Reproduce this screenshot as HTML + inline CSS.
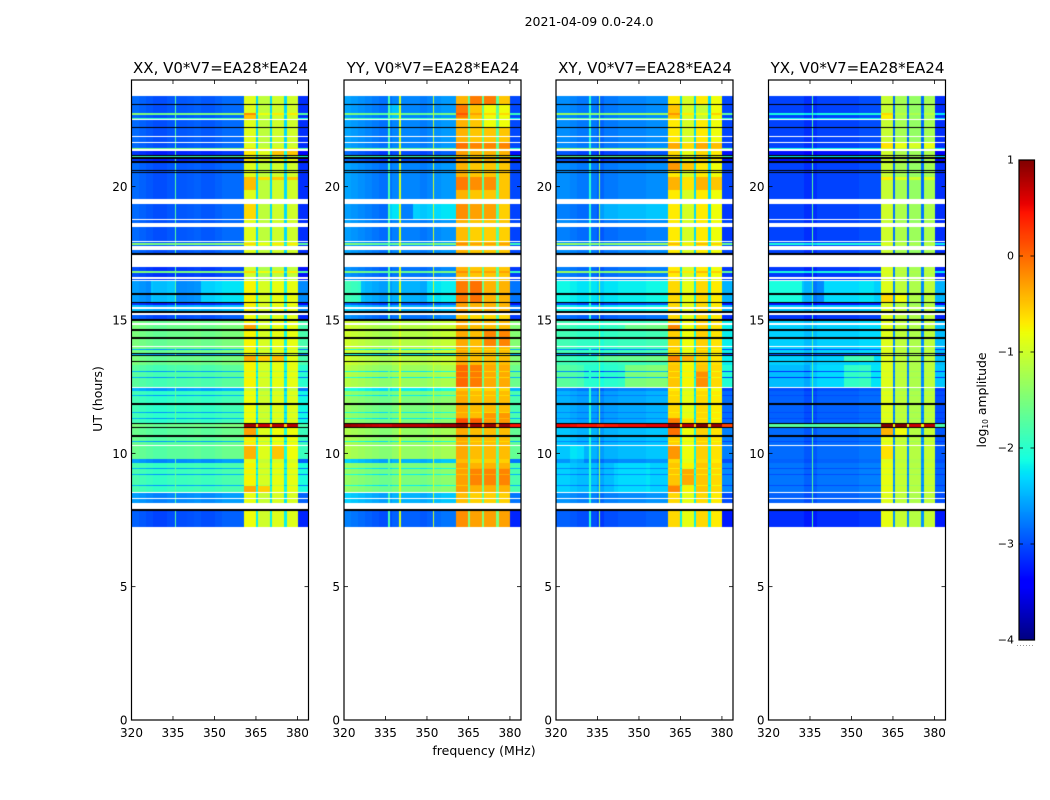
<!DOCTYPE html>
<html>
<head>
<meta charset="utf-8">
<title>Dynamic spectra</title>
<style>
  html, body { margin: 0; padding: 0; background: #fff; }
  #stage { position: relative; width: 1050px; height: 800px; overflow: hidden; background: #fff; }
  #stage canvas { position: absolute; display: block; }
  #overlay { position: absolute; left: 0; top: 0; }
  text { font-family: "DejaVu Sans", "Liberation Sans", sans-serif; fill: #000; }
</style>
</head>
<body>
<div id="stage">
  <canvas id="heat0" width="177" height="640" style="left:131.5px;top:80px"></canvas>
  <canvas id="heat1" width="177" height="640" style="left:344px;top:80px"></canvas>
  <canvas id="heat2" width="177" height="640" style="left:556px;top:80px"></canvas>
  <canvas id="heat3" width="177" height="640" style="left:768.5px;top:80px"></canvas>
  <canvas id="cbar" width="16" height="480" style="left:1019px;top:160px"></canvas>
  <svg id="overlay" width="1050" height="800" xmlns="http://www.w3.org/2000/svg">
    <text x="589" y="26" font-size="12.5" text-anchor="middle">2021-04-09 0.0-24.0</text>
    <text x="484" y="755" font-size="12.5" text-anchor="middle">frequency (MHz)</text>
    <text x="0" y="0" font-size="12.5" text-anchor="middle" transform="translate(102 399) rotate(-90)">UT (hours)</text>
    <text x="0" y="0" font-size="12.4" text-anchor="middle" transform="translate(986 400) rotate(-90)">log<tspan font-size="7.5" dy="2">10</tspan><tspan dy="-2"> amplitude</tspan></text>
    <line x1="1017" y1="645.5" x2="1035" y2="645.5" stroke="#999" stroke-width="1" stroke-dasharray="1 2"></line>
  </svg>
</div>
<script>
// ---- Chart data ----
const panelTitles = ["XX, V0*V7=EA28*EA24", "YY, V0*V7=EA28*EA24", "XY, V0*V7=EA28*EA24", "YX, V0*V7=EA28*EA24"];
const freqTicks = [320, 335, 350, 365, 380];
const hourTicks = [0, 5, 10, 15, 20];
const colorTicks = [1, 0, -1, -2, -3, -4];

// Time-row boundaries (UT hours, top to bottom) and each row's class. W = blank, K = black.
const rowEdges = [23.4,23.1,23.063,22.763,22.688,22.575,22.538,22.5,22.238,22.2,21.9,21.863,21.675,21.638,21.45,21.394,21.338,21.206,21.15,21.094,21.038,20.944,20.906,20.625,20.588,20.55,20.513,20.363,20.25,19.875,19.556,19.35,18.806,18.75,18.656,18.499,17.963,17.925,17.869,17.831,17.775,17.625,17.524,17.449,16.999,16.819,16.763,16.594,16.556,16.519,16.463,15.994,15.956,15.686,15.649,15.581,15.544,15.469,15.431,15.338,15.274,15.188,15.019,14.981,14.869,14.831,14.644,14.606,14.344,14.306,14.036,13.999,13.913,13.875,13.774,13.736,13.676,13.639,13.463,13.425,13.331,13.294,13.088,13.05,12.863,12.825,12.488,12.439,12.338,12.188,12.15,11.869,11.831,11.813,11.775,11.55,11.513,11.325,11.288,11.119,11.1,10.988,10.95,10.669,10.631,10.463,10.425,10.313,10.275,9.776,9.649,9.45,9.413,9.225,9.188,8.813,8.775,8.55,8.513,8.314,8.276,8.149,7.901,7.838,7.249];
const rowClasses = "aKabadWaKaWaWabWcKdKcKaKaKaaaaWoWaWoWabaWaKWpbpWpWeKeKcKeWeKWqKfWfKfKfWfjfKjKfKfWgjgjgWjhjhKhWhjhjhKlKiKijiWimkjkjkjkWmWmWKn";

// Representative log10 amplitude per row class, one array per panel.
const classOrder = "abcdefghijklmnopq";
const lowXX = [-2.95,-1.5,-3.2,-1.9,-2.5,-1.6,-1.8,-1.95,-1.7,-2.6,-1.9,-1.6,-2.7,-3.0,-2.95,-3.1,-3.0];
const lowYY = [-2.72,-1.6,-3.0,-1.9,-2.5,-1.15,-1.3,-1.5,-1.35,-2.2,-1.5,0.75,-2.5,-2.9,-2.75,-2.8,-2.8];
const lowXY = [-2.78,-1.4,-3.05,-1.7,-2.25,-1.95,-1.8,-2.6,-2.5,-2.8,-2.45,0.45,-2.75,-3.0,-2.85,-2.85,-2.9];
const lowYX = [-3.05,-2.1,-3.3,-2.2,-2.4,-2.35,-2.3,-2.9,-2.85,-3.0,-2.8,-1.7,-2.9,-3.15,-3.05,-3.1,-3.1];
const highXX = [-1.0,-0.7,-0.8,-1.0,-0.85,-0.85,-0.85,-0.9,-0.8,-1.1,-0.85,0.75,-0.95,-0.9,-1.0,-1.1,-0.9];
const highYY = [-0.5,-0.3,-0.4,-0.6,-0.4,-0.45,-0.35,-0.45,-0.45,-0.6,-0.4,0.9,-0.55,-0.3,-0.55,-0.5,-0.6];
const highXY = [-0.8,-0.55,-0.7,-0.8,-0.7,-0.65,-0.6,-0.7,-0.65,-0.8,-0.6,0.9,-0.7,-0.7,-0.8,-0.8,-0.7];
const highYX = [-1.25,-1.1,-1.2,-1.2,-1.1,-1.1,-1.1,-1.1,-1.05,-1.2,-1.05,0.75,-1.1,-1.05,-1.2,-1.15,-1.1];
const lowLevels = [lowXX, lowYY, lowXY, lowYX];
const highLevels = [highXX, highYY, highXY, highYX];

// Low band offset across frequency, one value per 2.5 MHz from 320 MHz.
const lowShapeXX = [0.1,0.05,0,-0.05,-0.05,0,0,0,0.02,0.05,0,0,0.05,0.1,0.1,0.1];
const lowShapeYY = [0.15,0.1,0.05,0,-0.05,-0.1,-0.1,0,0,0,0,-0.05,0,0.05,0.1,0.1];
const lowShapeXY = [0.1,0.1,0.05,0,0,0,-0.1,0,0,0.05,0.05,0.05,0.05,0.1,0.1,0.1];
const lowShapeYX = [0,0,0,0,0,-0.1,-0.1,0,0,0,0,0,0,0.05,0.05,0.05];
const lowShapes = [lowShapeXX, lowShapeYY, lowShapeXY, lowShapeYX];

// High-band sub-band offsets, offsets for the narrow gaps, and the 380-384 MHz edge.
const subBandOffsets = [[0.1,-0.1,0,0],[0.1,0,0,0],[0.1,-0.15,0.1,0],[0.2,0,-0.1,0]];
const gapOffsets = [-1.3,-1.2,-1.5,-1.6];
const edgeOffsets = [-0.2,-0.3,-0.25,-0.1];
const spurChannels = [[335.5],[336,340,352],[332,335.5],[335.5]];
const spurLevels = [[-1.7],[-1.8,-0.95,-1.0],[-2.0,-1.3],[-1.7]];

// Local amplitude features: panel, MHz from, MHz to, hours from, hours to, log10 change.
const patches = [
  [0,360.5,365,22.76,22.54,0.4],[0,360.5,365,20.36,19.88,0.45],[0,365.5,380,20.36,20.25,0.5],[0,360.5,365,19.35,18.98,0.3],
  [0,360.5,365,14.81,14.66,0.45],[0,360.5,375,13.69,13.46,0.4],[0,360.5,365,10.95,10.61,0.4],[0,360.5,365,10.27,9.82,0.3],[0,370.5,375,10.27,9.82,0.3],
  [0,360.5,370,8.78,8.55,0.4],[0,360.5,365,7.43,7.28,0.35],[0,370.5,380,21.3,21.2,0.3],
  [0,320,327,16.46,15.69,-0.2],[0,327,336,16.46,15.69,0.1],[0,336,345,16.46,15.69,-0.2],[0,345,360.5,16.46,15.69,0.15],
  [1,365.5,375,23.4,23.25,0.4],[1,360.5,365,23,22.62,0.3],[1,370.5,380,23,22.3,-0.3],[1,360.5,380,21.68,21.45,0.35],[1,360.5,375,20.36,19.88,0.3],[1,360.5,375,19.35,18.9,0.25],
  [1,360.5,365,16.43,15.75,0.2],[1,365.5,370,16.43,15.75,0.35],[1,370.5,380,14.6,14.0,0.3],[1,360.5,370,13.24,12.49,0.25],[1,360.5,370,11.36,11.12,0.5],[1,370.5,380,11.43,11.12,0.2],[1,365.5,380,9.49,8.74,0.25],
  [1,336,340,19.35,18.9,0.5],[1,345,360.5,19.35,18.9,0.4],[1,336,340,23.06,22.5,0.3],[1,320,326,16.46,15.69,0.5],[1,350,360.5,16.46,15.69,0.2],
  [2,360.5,365,23,22.62,0.2],[2,370.5,375,23,22.4,-0.35],[2,360.5,380,21.68,21.45,0.35],[2,360.5,370,20.9,20.63,0.45],[2,360.5,380,20.36,19.88,0.3],
  [2,360.5,365,14.81,14.62,0.4],[2,360.5,370,13.69,13.42,0.4],[2,370.5,375,13.1,12.42,0.3],[2,360.5,365,11.36,10.65,0.5],[2,365.5,370,11.36,11.12,0.2],
  [2,360.5,365,10.27,9.8,0.3],[2,365.5,370,9.4,9.0,0.4],[2,360.5,365,8.87,8.6,0.35],[2,345,360,13.3,12.5,0.25],[2,330,345,13.3,12.5,-0.2],[2,336,360.5,19.35,18.9,0.35],
  [2,345,360.5,14.85,14.62,0.3],[2,335,360.5,13.64,13.42,0.3],[2,325,330,10.27,9.65,0.2],[2,341,354,9.64,8.56,0.1],
  [3,360.5,365,22.76,22.5,0.3],[3,360.5,380,21.68,21.5,0.4],[3,360.5,380,20.36,20.1,0.35],[3,360.5,365,11.14,10.65,0.45],[3,365.5,370,11.14,10.65,0.25],[3,360.5,370,15.99,15.8,0.3],[3,360.5,365,10.27,9.9,0.2],[3,347,357,13.3,12.6,0.35],[3,320,335,13.3,12.5,-0.15],
  [3,320,332,16.46,15.69,0.3],[3,336,340,16.46,15.69,-0.3],[3,340,358,16.46,15.69,0.1],[3,347,358,13.64,13.42,0.5]
];

// ---- Axis functions ----
const axisLefts = [131.5, 344, 556, 768.5];
const axisWidth = 177;
const axisTop = 80;
const axisBottom = 720;
const freqMin = 320;
const freqMax = 384;
const hourMax = 24;
function xScale(mhz) { return (mhz - freqMin) / (freqMax - freqMin) * axisWidth; }
function yScale(hours) { return (axisBottom - axisTop) * (1 - hours / hourMax); }

function lerpJet(t, pts) {
  for (let i = 1; i < pts.length; i++) {
    if (t <= pts[i][0]) {
      const a = pts[i - 1], b = pts[i];
      return a[1] + (b[1] - a[1]) * (t - a[0]) / (b[0] - a[0]);
    }
  }
  return pts[pts.length - 1][1];
}
function jet(value) {
  const t = Math.max(0, Math.min(1, (value + 4) / 5));
  const r = lerpJet(t, [[0,0],[0.35,0],[0.66,1],[0.89,1],[1,0.5]]);
  const g = lerpJet(t, [[0,0],[0.125,0],[0.375,1],[0.64,1],[0.91,0],[1,0]]);
  const b = lerpJet(t, [[0,0.5],[0.11,1],[0.34,1],[0.65,0],[1,0]]);
  return "rgb(" + Math.round(r * 255) + "," + Math.round(g * 255) + "," + Math.round(b * 255) + ")";
}

function subBandIndex(f) {
  if (f >= 360.5 && f < 365) return 0;
  if (f >= 365.5 && f < 370) return 1;
  if (f >= 370.5 && f < 375) return 2;
  if (f >= 376 && f < 380) return 3;
  return -1;
}

function cellValue(panel, classIdx, f, hours) {
  let v;
  if (f < 360.5) {
    const knot = Math.min(15, Math.floor((f - 320) / 2.5));
    v = lowLevels[panel][classIdx] + lowShapes[panel][knot];
  } else if (f >= 380) {
    v = lowLevels[panel][classIdx] + edgeOffsets[panel];
  } else {
    const sub = subBandIndex(f);
    const high = highLevels[panel][classIdx];
    v = sub >= 0 ? high + subBandOffsets[panel][sub] : high + gapOffsets[panel];
  }
  patches.forEach(function (p) {
    if (p[0] === panel && f >= p[1] && f < p[2] && hours <= p[3] && hours >= p[4]) {
      if (subBandIndex(f) >= 0 || f < 360.5) v += p[5];
    }
  });
  if (f < 360.5) {
    const spur = spurChannels[panel].indexOf(f);
    if (spur >= 0) v = Math.max(v, spurLevels[panel][spur]);
  }
  return v;
}

function drawHeatmap(panel) {
  const ctx = document.getElementById("heat" + panel).getContext("2d");
  for (let r = 0; r < rowClasses.length && r + 1 < rowEdges.length; r++) {
    const y0 = Math.round(yScale(rowEdges[r]));
    const y1 = Math.max(y0 + 1, Math.round(yScale(rowEdges[r + 1])));
    const kind = rowClasses[r];
    if (kind === "W") continue;
    if (kind === "K") {
      ctx.fillStyle = "#000";
      ctx.fillRect(0, y0, axisWidth, y1 - y0);
      continue;
    }
    const classIdx = classOrder.indexOf(kind);
    const hours = (rowEdges[r] + rowEdges[r + 1]) / 2;
    for (let c = 0; c < 128; c++) {
      const f = freqMin + c * 0.5;
      const x0 = Math.round(xScale(f));
      const x1 = Math.round(xScale(f + 0.5));
      ctx.fillStyle = jet(cellValue(panel, classIdx, f, hours));
      ctx.fillRect(x0, y0, x1 - x0, y1 - y0);
    }
  }
}

function drawColorbar() {
  const ctx = document.getElementById("cbar").getContext("2d");
  for (let y = 0; y < 480; y++) {
    ctx.fillStyle = jet(1 - (y + 0.5) / 480 * 5);
    ctx.fillRect(0, y, 16, 1);
  }
}

// ---- Axes overlay ----
const svg = document.getElementById("overlay");
const SVGNS = "http://www.w3.org/2000/svg";
function addLine(x1, y1, x2, y2, width) {
  const el = document.createElementNS(SVGNS, "line");
  el.setAttribute("x1", x1);
  el.setAttribute("y1", y1);
  el.setAttribute("x2", x2);
  el.setAttribute("y2", y2);
  el.setAttribute("stroke", "#000");
  el.setAttribute("stroke-width", width);
  svg.appendChild(el);
  return el;
}
function addText(str, x, y, size, anchor) {
  const el = document.createElementNS(SVGNS, "text");
  el.setAttribute("x", x);
  el.setAttribute("y", y);
  el.setAttribute("font-size", size);
  el.setAttribute("text-anchor", anchor);
  el.textContent = str;
  svg.appendChild(el);
  return el;
}

function drawAxes(panel) {
  const left = axisLefts[panel];
  const right = left + axisWidth;
  freqTicks.forEach(function (f) {
    const x = left + xScale(f);
    const tickBottom = addLine(x, axisBottom, x, axisBottom - 4, 0.8);
    
    
    const tickTop = addLine(x, axisTop, x, axisTop + 4, 0.8);
    
    
    const label = addText(String(f), x, axisBottom + 17, 12, "middle");
    
    
  });
  hourTicks.forEach(function (h) {
    const y = axisTop + yScale(h);
    const tickLeft = addLine(left, y, left + 4, y, 0.8);
    
    
    const tickRight = addLine(right, y, right - 4, y, 0.8);
    
    
    const label = addText(String(h), left - 4, y + 4.5, 12, "end");
    
    
  });
  const frame = document.createElementNS(SVGNS, "rect");
  frame.setAttribute("x", left);
  frame.setAttribute("y", axisTop);
  frame.setAttribute("width", axisWidth);
  frame.setAttribute("height", axisBottom - axisTop);
  frame.setAttribute("fill", "none");
  frame.setAttribute("stroke", "#000");
  frame.setAttribute("stroke-width", "1.2");
  
  
  svg.appendChild(frame);
  const title = addText(panelTitles[panel], left + axisWidth / 2 + 0.5, 73, 15, "middle");
  
  
}

function drawColorbarAxis() {
  const left = 1019;
  const right = 1034.5;
  colorTicks.forEach(function (v) {
    const y = 160 + (1 - v) / 5 * 480;
    const tickA = addLine(left, y, left + 4, y, 0.8);
    
    
    const tickB = addLine(right, y, right - 4, y, 0.8);
    
    
    const label = addText(String(v).replace("-", "\u2212"), left - 5, y + 3.5, 11, "end");
    
    
  });
  const frame = document.createElementNS(SVGNS, "rect");
  frame.setAttribute("x", left);
  frame.setAttribute("y", 160);
  frame.setAttribute("width", right - left);
  frame.setAttribute("height", 480);
  frame.setAttribute("fill", "none");
  frame.setAttribute("stroke", "#000");
  frame.setAttribute("stroke-width", "1.2");
  
  
  svg.appendChild(frame);
}

for (let p = 0; p < 4; p++) {
  drawHeatmap(p);
  drawAxes(p);
}
drawColorbar();
drawColorbarAxis();
</script>
</body>
</html>
